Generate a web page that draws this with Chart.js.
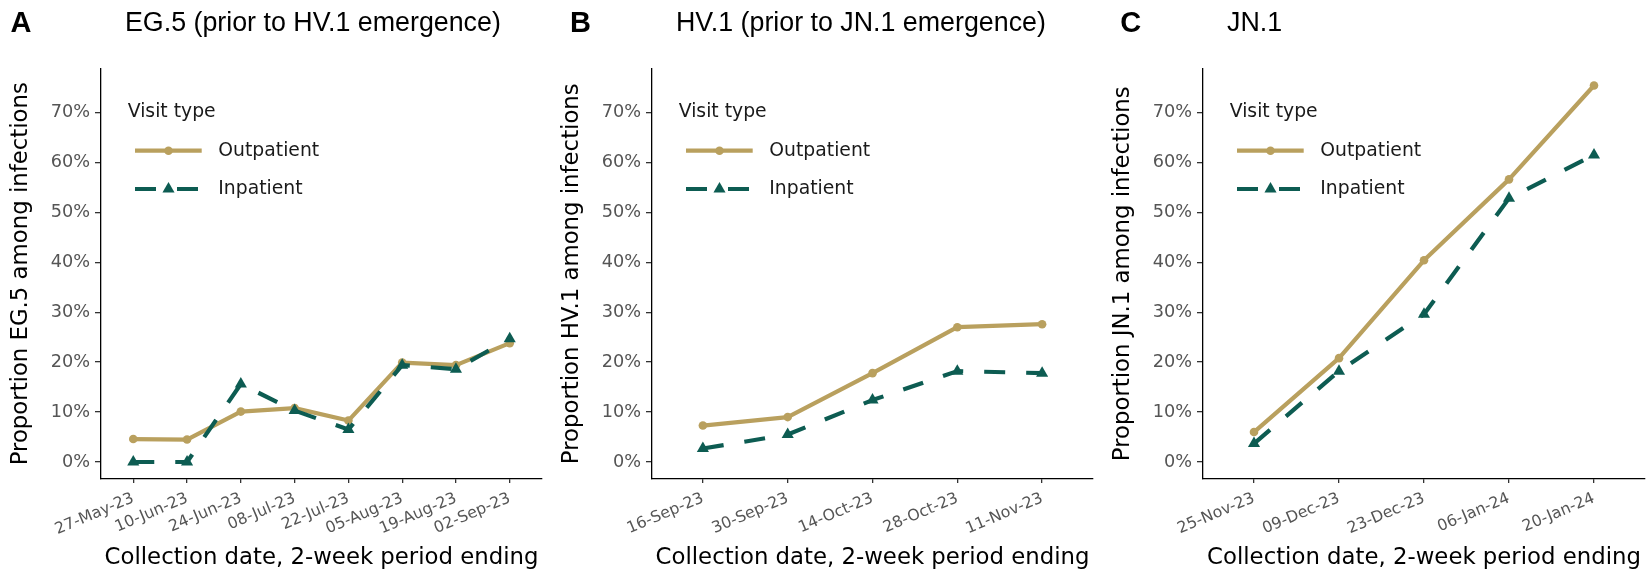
<!DOCTYPE html>
<html>
<head>
<meta charset="utf-8">
<title>Proportion of variant among infections by visit type</title>
<script src="https://cdn.jsdelivr.net/npm/chart.js@4.4.1/dist/chart.umd.min.js"></script>
<style>
  body { margin: 0; background: #fff; }
  .wrap { position: relative; width: 1652px; height: 573px; overflow: hidden; }
  .panel { position: absolute; top: 0; }
</style>
</head>
<body>
<div class="wrap">
  <canvas class="panel" id="chart-a" width="551" height="573" style="left:0"></canvas>
  <canvas class="panel" id="chart-b" width="551" height="573" style="left:551px"></canvas>
  <canvas class="panel" id="chart-c" width="550" height="573" style="left:1102px"></canvas>
</div>
<script>
// panel A - EG.5
const datesEG5 = ["27-May-23", "10-Jun-23", "24-Jun-23", "08-Jul-23", "22-Jul-23", "05-Aug-23", "19-Aug-23", "02-Sep-23"];
const outpatientEG5 = [4.6, 4.5, 10.1, 10.8, 8.3, 19.9, 19.4, 23.8];
const inpatientEG5 = [0, 0, 15.6, 10.3, 6.5, 19.4, 18.6, 24.7];

// panel B - HV.1
const datesHV1 = ["16-Sep-23", "30-Sep-23", "14-Oct-23", "28-Oct-23", "11-Nov-23"];
const outpatientHV1 = [7.3, 9.0, 17.8, 27.0, 27.6];
const inpatientHV1 = [2.7, 5.5, 12.4, 18.2, 17.8];

// panel C - JN.1
const datesJN1 = ["25-Nov-23", "09-Dec-23", "23-Dec-23", "06-Jan-24", "20-Jan-24"];
const outpatientJN1 = [6.0, 20.8, 40.4, 56.6, 75.4];
const inpatientJN1 = [3.7, 18.2, 29.6, 52.8, 61.5];

const yTicks = [0, 10, 20, 30, 40, 50, 60, 70];
const visitTypes = ["Outpatient", "Inpatient"];

const gold = "#b9a05e";
const teal = "#0d5c52";
const tickGrey = "#555555";
const sans = "'DejaVu Sans', sans-serif";
const headFont = "'Liberation Sans', Arial, sans-serif";

function drawMarker(ctx, style, r, x, y) {
  ctx.beginPath();
  if (style === "triangle") {
    for (let k = 0; k < 3; k++) {
      const a = -Math.PI / 2 + k * 2 * Math.PI / 3;
      const px = x + r * Math.cos(a), py = y + r * Math.sin(a);
      if (k === 0) ctx.moveTo(px, py); else ctx.lineTo(px, py);
    }
    ctx.closePath();
  } else {
    ctx.arc(x, y, r, 0, Math.PI * 2);
  }
  ctx.fill();
}

// panel letter, title and the "Visit type" key
const panelDecor = {
  id: "panelDecor",
  afterDraw(chart, args, opts) {
    const { ctx, chartArea } = chart;
    const left = chartArea.left, top = chartArea.top;
    ctx.save();
    ctx.fillStyle = "#000";
    ctx.textBaseline = "alphabetic";
    ctx.textAlign = "left";
    ctx.font = "bold 29px " + headFont;
    ctx.fillText(opts.letter, opts.letterX, 32);
    ctx.font = "26.8px " + headFont;
    ctx.fillText(opts.title, left + 24, 30.5);

    ctx.fillStyle = "#1a1a1a";
    ctx.textBaseline = "middle";
    ctx.font = "18.8px " + sans;
    ctx.fillText("Visit type", left + 26.7, top + 43.4);
    chart.data.datasets.forEach((ds, i) => {
      const y = top + 81.7 + i * 38.3;
      ctx.strokeStyle = ds.borderColor;
      ctx.lineWidth = ds.borderWidth;
      ctx.lineCap = "butt";
      ctx.setLineDash(ds.borderDash || []);
      ctx.beginPath();
      ctx.moveTo(left + 34, y);
      ctx.lineTo(left + (ds.borderDash ? 97 : 100.7), y);
      ctx.stroke();
      ctx.setLineDash([]);
      ctx.fillStyle = ds.borderColor;
      drawMarker(ctx, ds.pointStyle, ds.pointRadius, left + 67.5, y);
      ctx.fillStyle = "#1a1a1a";
      ctx.fillText(ds.label, left + 117.3, y);
    });
    ctx.restore();
  }
};

function makePanel(id, letter, letterX, title, yTitle, dates, outpatient, inpatient, rightPad) {
  const toPoints = (vals) => vals.map((v, i) => ({ x: i, y: v }));
  new Chart(document.getElementById(id), {
    type: "line",
    data: {
      datasets: [
        {
          label: visitTypes[0],
          data: toPoints(outpatient),
          borderColor: gold,
          backgroundColor: gold,
          borderWidth: 4.2,
          borderJoinStyle: "round",
          pointStyle: "circle",
          pointRadius: 4.3,
          pointBorderWidth: 0,
          pointBackgroundColor: gold,
          order: 1,
        },
        {
          label: visitTypes[1],
          data: toPoints(inpatient),
          borderColor: teal,
          backgroundColor: teal,
          borderWidth: 4.2,
          borderDash: [21, 21],
          borderJoinStyle: "round",
          pointStyle: "triangle",
          pointRadius: 7,
          pointBorderWidth: 0,
          pointBackgroundColor: teal,
          order: 0,
        },
      ],
    },
    options: {
      responsive: false,
      animation: false,
      layout: { padding: { top: 69, right: rightPad, bottom: 0, left: 0 } },
      plugins: {
        legend: { display: false },
        tooltip: { enabled: false },
        panelDecor: { letter: letter, letterX: letterX, title: title },
      },
      scales: {
        x: {
          type: "linear",
          min: -0.6,
          max: dates.length - 0.4,
          afterBuildTicks: (scale) => {
            scale.ticks = dates.map((d, i) => ({ value: i }));
          },
          afterFit: (scale) => { scale.height = 94.5; },
          grid: { drawOnChartArea: false, drawTicks: true, tickLength: 4.5, color: "#333", lineWidth: 1.3 },
          border: { display: true, color: "#000", width: 1.3 },
          ticks: {
            autoSkip: false,
            maxRotation: 23,
            minRotation: 23,
            padding: 6,
            color: tickGrey,
            font: { family: sans, size: 15.8 },
            callback: (v) => dates[v],
          },
          title: {
            display: true,
            text: "Collection date, 2-week period ending",
            color: "#000",
            font: { family: sans, size: 22.8 },
            padding: { top: 0, bottom: 1 },
          },
        },
        y: {
          min: -3.3,
          max: 78.7,
          afterBuildTicks: (scale) => {
            scale.ticks = yTicks.map((v) => ({ value: v }));
          },
          afterFit: (scale) => { scale.width = 101; },
          grid: { drawOnChartArea: false, drawTicks: true, tickLength: 6, color: "#333", lineWidth: 1.3 },
          border: { display: true, color: "#000", width: 1.3 },
          ticks: {
            padding: 5,
            color: tickGrey,
            font: { family: sans, size: 17.7 },
            callback: (v) => v + "%",
          },
          title: {
            display: true,
            text: yTitle,
            color: "#000",
            font: { family: sans, size: 22.8 },
            padding: { top: 7.4, bottom: 0 },
          },
        },
      },
    },
    plugins: [panelDecor],
  });
}

makePanel("chart-a", "A", 10.4, "EG.5 (prior to HV.1 emergence)", "Proportion EG.5 among infections",
  datesEG5, outpatientEG5, inpatientEG5, 9);
makePanel("chart-b", "B", 19, "HV.1 (prior to JN.1 emergence)", "Proportion HV.1 among infections",
  datesHV1, outpatientHV1, inpatientHV1, 9);
makePanel("chart-c", "C", 18.3, "JN.1", "Proportion JN.1 among infections",
  datesJN1, outpatientJN1, inpatientJN1, 7);
</script>
</body>
</html>
